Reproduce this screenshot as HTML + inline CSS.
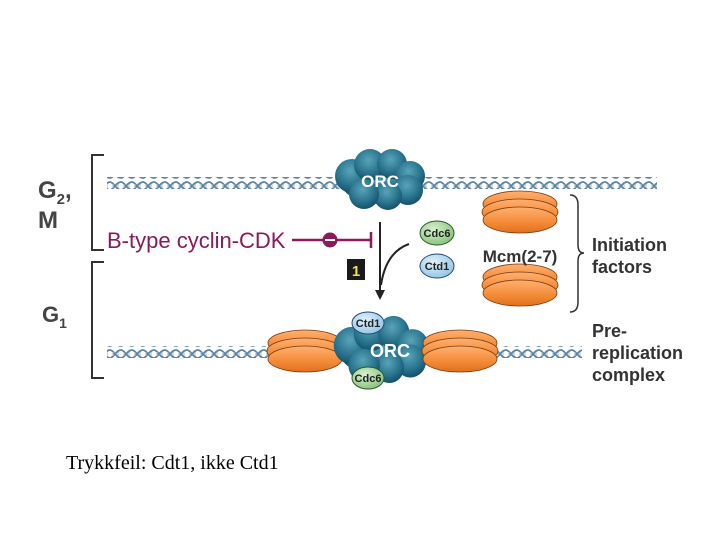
<!DOCTYPE html>
<html><head><meta charset="utf-8"><style>
html,body{margin:0;padding:0;background:#fff;width:720px;height:540px;overflow:hidden}
svg{display:block}
.b{font-family:"Liberation Sans",sans-serif;font-weight:bold}
</style></head><body>
<svg width="720" height="540" viewBox="0 0 720 540" xmlns="http://www.w3.org/2000/svg">
<defs>
<pattern id="dna" x="0" y="0" width="11" height="12" patternUnits="userSpaceOnUse">
<path d="M0,2 C4,2 6,10 11,10 M0,10 C4,10 6,2 11,2" stroke="#5f84a0" stroke-width="1.8" fill="none"/>
<path d="M3,4 L3,8 M8,4 L8,8" stroke="#9fb6c6" stroke-width="1"/>
</pattern>
<radialGradient id="orc" cx="45%" cy="35%" r="65%"><stop offset="0" stop-color="#5aa4b8"/><stop offset="0.6" stop-color="#2b7690"/><stop offset="1" stop-color="#15506a"/></radialGradient>
<linearGradient id="mcm" x1="0" y1="0" x2="0" y2="1"><stop offset="0" stop-color="#ffb070"/><stop offset="0.6" stop-color="#f38a36"/><stop offset="1" stop-color="#e0701e"/></linearGradient>
<radialGradient id="grn" cx="40%" cy="35%" r="70%"><stop offset="0" stop-color="#d8efcf"/><stop offset="1" stop-color="#86c27a"/></radialGradient>
<radialGradient id="blu" cx="40%" cy="35%" r="70%"><stop offset="0" stop-color="#e2f1fb"/><stop offset="1" stop-color="#8fc4e6"/></radialGradient>
<g id="stack">
<ellipse cx="0" cy="-8" rx="37" ry="13" fill="url(#mcm)" stroke="#7a3a10" stroke-width="0.8"/>
<ellipse cx="0" cy="0" rx="38" ry="13" fill="url(#mcm)" stroke="#7a3a10" stroke-width="0.8"/>
<ellipse cx="0" cy="8" rx="37" ry="13" fill="url(#mcm)" stroke="#7a3a10" stroke-width="0.8"/>
</g>
<g id="cloud">
<ellipse cx="0" cy="0" rx="40" ry="24"/>
<circle cx="-28" cy="-4" r="17"/><circle cx="-10" cy="-15" r="16"/><circle cx="12" cy="-16" r="15"/>
<circle cx="30" cy="-4" r="15"/><circle cx="28" cy="10" r="15"/><circle cx="8" cy="16" r="14"/><circle cx="-16" cy="14" r="15"/>
</g>
</defs>

<path d="M104,155 H92 V250 H104" stroke="#333" stroke-width="2" fill="none"/>
<path d="M104,262 H92 V378 H104" stroke="#333" stroke-width="2" fill="none"/>
<text x="38" y="198" class="b" font-size="24" fill="#444">G<tspan font-size="15" dy="6">2</tspan><tspan dy="-6">,</tspan></text>
<text x="38" y="228" class="b" font-size="24" fill="#444">M</text>
<text x="42" y="322" class="b" font-size="22" fill="#444">G<tspan font-size="14" dy="6">1</tspan></text>

<rect x="107" y="177" width="240" height="12" fill="url(#dna)"/>
<rect x="420" y="177" width="237" height="12" fill="url(#dna)"/>
<g transform="translate(380,180)" fill="url(#orc)"><use href="#cloud"/></g>
<text x="380" y="187" text-anchor="middle" class="b" font-size="17" fill="#fff">ORC</text>

<text x="107" y="248" font-family="Liberation Sans,sans-serif" font-size="22" fill="#8b1a5a">B-type cyclin-CDK</text>
<line x1="292" y1="240" x2="371" y2="240" stroke="#8b1a5a" stroke-width="2.5"/>
<line x1="371" y1="232" x2="371" y2="248" stroke="#8b1a5a" stroke-width="2.5"/>
<circle cx="330" cy="240" r="7.5" fill="#8b1a5a"/>
<line x1="325" y1="240" x2="335" y2="240" stroke="#fff" stroke-width="2"/>

<line x1="380" y1="222" x2="380" y2="292" stroke="#222" stroke-width="2"/>
<path d="M375,290 L380,300 L385,290 Z" fill="#222"/>
<path d="M409,244 C392,250 384,265 381,285" stroke="#222" stroke-width="2" fill="none"/>
<rect x="347" y="259" width="18" height="21" fill="#1a1a1a"/>
<text x="356" y="276" text-anchor="middle" class="b" font-size="15" fill="#f3e33a">1</text>

<ellipse cx="437" cy="233" rx="17" ry="12" fill="url(#grn)" stroke="#2a5a2a"/>
<text x="437" y="237" text-anchor="middle" class="b" font-size="11" fill="#222">Cdc6</text>
<ellipse cx="437" cy="266" rx="17" ry="12" fill="url(#blu)" stroke="#2a4a6a"/>
<text x="437" y="270" text-anchor="middle" class="b" font-size="11" fill="#222">Ctd1</text>
<use href="#stack" x="520" y="212"/>
<use href="#stack" x="520" y="285"/>
<text x="520" y="262" text-anchor="middle" class="b" font-size="17" fill="#333">Mcm(2-7)</text>
<path d="M570,195 Q578,195 578,205 V245 Q578,253 584,253 Q578,253 578,261 V302 Q578,312 570,312" stroke="#333" stroke-width="1.5" fill="none"/>
<text x="592" y="251" class="b" font-size="18" fill="#333">Initiation</text>
<text x="592" y="273" class="b" font-size="18" fill="#333">factors</text>
<text x="592" y="337" class="b" font-size="18" fill="#333">Pre-</text>
<text x="592" y="359" class="b" font-size="18" fill="#333">replication</text>
<text x="592" y="381" class="b" font-size="18" fill="#333">complex</text>

<rect x="107" y="346" width="475" height="12" fill="url(#dna)"/>
<use href="#stack" x="305" y="351"/>
<g transform="translate(381,350) scale(1.05,1.1)" fill="url(#orc)"><use href="#cloud"/></g>
<use href="#stack" x="460" y="351"/>
<text x="390" y="357" text-anchor="middle" class="b" font-size="18" fill="#fff">ORC</text>
<ellipse cx="368" cy="323" rx="16" ry="11" fill="url(#blu)" stroke="#2a4a6a"/>
<text x="368" y="327" text-anchor="middle" class="b" font-size="11" fill="#222">Ctd1</text>
<ellipse cx="368" cy="378" rx="16" ry="11" fill="url(#grn)" stroke="#2a5a2a"/>
<text x="368" y="382" text-anchor="middle" class="b" font-size="11" fill="#222">Cdc6</text>

<text x="66" y="469" font-family="Liberation Serif,serif" font-size="20" fill="#000">Trykkfeil: Cdt1, ikke Ctd1</text>
</svg>
</body></html>
